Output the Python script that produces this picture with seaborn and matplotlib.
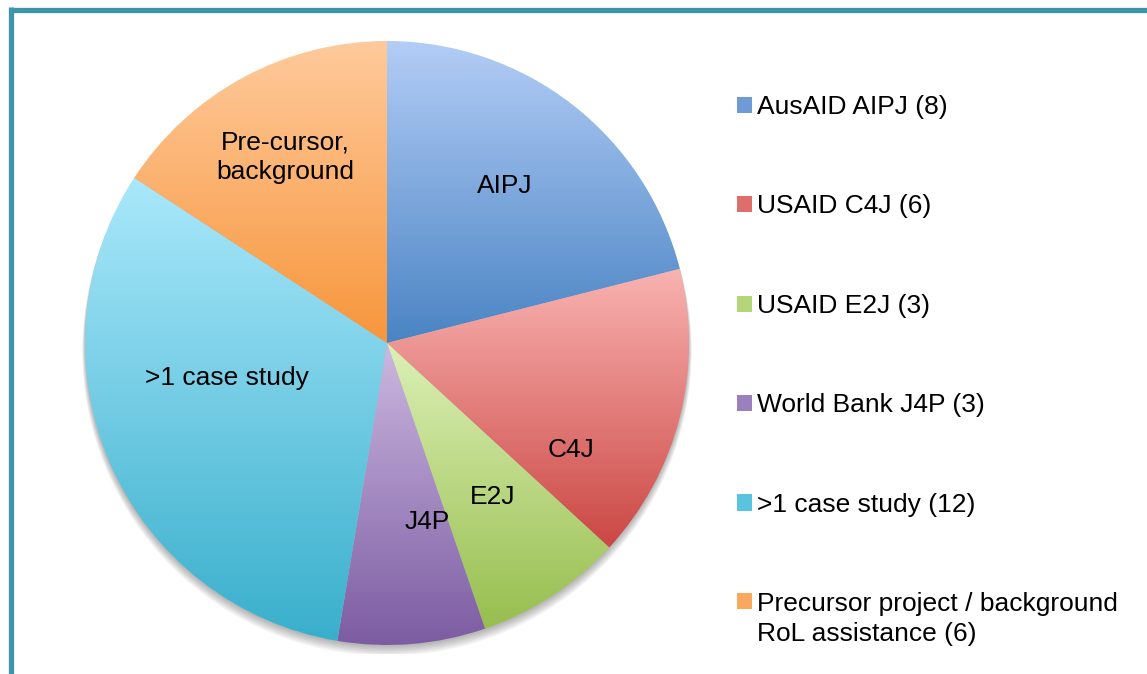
import matplotlib
matplotlib.use("Agg")
import matplotlib.pyplot as plt
from matplotlib.patches import Patch, Circle
from matplotlib.lines import Line2D
from matplotlib.colors import LinearSegmentedColormap
import numpy as np
import seaborn as sns

# data
slice_labels = ["AIPJ", "C4J", "E2J", "J4P", ">1 case study", "Pre-cursor,\nbackground"]
legend_labels = ["AusAID AIPJ (8)", "USAID C4J (6)", "USAID E2J (3)",
                 "World Bank J4P (3)", ">1 case study (12)",
                 "Precursor project / background\nRoL assistance (6)"]
counts = [8, 6, 3, 3, 12, 6]

# light (top) / dark (bottom) colour of each slice gradient
top_colors = ["#B3CDF6", "#F9B3B1", "#DCF0B6", "#CCB8E0", "#AAE8FB", "#FFCA9C"]
bottom_colors = ["#4A84C4", "#CB4744", "#97BE4E", "#7C5CA2", "#39AFCC", "#F7963C"]
mid_colors = ["#6E9BD6", "#DE6E6B", "#B4D67A", "#9B80BE", "#5AC4E0", "#F9A85E"]

# where the slice names sit (pie radius units)
label_xy = [(0.39, 0.52), (0.61, -0.354), (0.351, -0.51),
            (0.132, -0.593), (-0.53, -0.116), (-0.338, 0.616)]

sns.set_theme(style="white")
plt.rcParams["font.family"] = ["Liberation Sans", "DejaVu Sans"]

W, H = 1147, 674
fig = plt.figure(figsize=(W / 100, H / 100), dpi=100)

R = 302
cx, cy = 387, H - 343
half = R * 1.03
ax = fig.add_axes([(cx - half) / W, (cy - half) / H, 2 * half / W, 2 * half / H])

wedges, texts = ax.pie(counts, labels=slice_labels, startangle=90,
                       counterclock=False, radius=1.0, labeldistance=0.6,
                       wedgeprops=dict(linewidth=0),
                       textprops=dict(fontsize=19, color="black", ha="center",
                                      va="center", linespacing=1.3))
ax.set_aspect("equal")
ax.axis("off")

# soft shadow just below the pie
for k in range(7):
    ax.add_patch(Circle((0, -0.006 - 0.0035 * k), 1.0 + 0.0015 * k,
                        color="black", alpha=0.045, lw=0, zorder=0))

grad = np.linspace(1, 0, 256).reshape(-1, 1)
for w, c0, c1 in zip(wedges, top_colors, bottom_colors):
    w.set_facecolor("none")
    w.set_zorder(2)
    ext = w.get_path().get_extents(w.get_transform() - ax.transData)
    cmap = LinearSegmentedColormap.from_list("g", [c1, c0])
    im = ax.imshow(grad, cmap=cmap, aspect="auto", zorder=1,
                   extent=[-1.05, 1.05, ext.y0, ext.y1], origin="upper",
                   vmin=0, vmax=1)
    im.set_clip_path(w)
ax.set_xlim(-1.03, 1.03)
ax.set_ylim(-1.03, 1.03)

for t, (x, y) in zip(texts, label_xy):
    t.set_position((x, y))
    t.set_zorder(3)

handles = [Patch(facecolor=c, edgecolor="none") for c in mid_colors]
leg = fig.legend(handles, legend_labels, loc="upper left",
                 bbox_to_anchor=(737 / W, 1 - 95 / H), frameon=False,
                 fontsize=19, labelcolor="black",
                 handlelength=0.57, handleheight=0.57,
                 handletextpad=0.2, labelspacing=2.86, borderpad=0,
                 borderaxespad=0)
for t in leg.get_texts():
    t.set_linespacing(1.3)
# two-line entry: keep its marker on the first line
last = leg.legend_handles[-1]
last.set_y(last.get_y() + 13)

# teal frame along the top and left edge
frame = "#3D95AA"
fig.add_artist(Line2D([10.5 / W, 1], [1 - 9.5 / H, 1 - 9.5 / H],
                      color=frame, lw=3.8, transform=fig.transFigure,
                      solid_capstyle="butt"))
fig.add_artist(Line2D([10.5 / W, 10.5 / W], [0, 1 - 7 / H],
                      color=frame, lw=3.8, transform=fig.transFigure,
                      solid_capstyle="butt"))

fig.savefig("out.png", dpi=100)
